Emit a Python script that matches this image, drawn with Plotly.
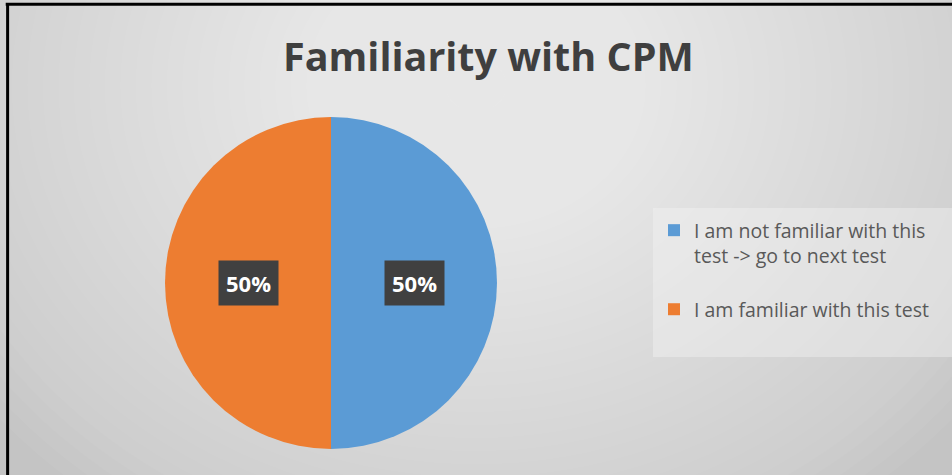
import math
import plotly.graph_objects as go

# data
labels = ["I am not familiar with this<br>test -> go to next test<br> ", "I am familiar with this test"]
values = [50, 50]
colors = ["#5B9BD5", "#ED7D31"]
title_text = "Familiarity with CPM"

W, H = 952, 475
# pie geometry in pixels
cx, cy, r = 331, 283, 166

fig = go.Figure()
fig.add_trace(go.Pie(
    labels=labels, values=values, sort=False, direction="clockwise", rotation=0,
    marker=dict(colors=colors, line=dict(width=0)),
    textinfo="none", hoverinfo="percent",
    domain=dict(x=[(cx - r) / W, (cx + r) / W], y=[1 - (cy + r) / H, 1 - (cy - r) / H]),
))

# fake radial gradient background
shapes = []
n = 40
for i in range(n):
    f = 1 - i / n
    rx, ry = 0.65 * f, 1.1 * f
    shapes.append(dict(type="circle", xref="paper", yref="paper", layer="below",
                       x0=0.5 - rx, x1=0.5 + rx, y0=0.82 - ry, y1=0.82 + ry,
                       fillcolor="rgba(255,255,255,0.04)", line=dict(width=0)))
# legend panel
shapes.append(dict(type="rect", xref="paper", yref="paper", layer="below",
                   x0=653 / W, x1=1, y0=1 - 357 / H, y1=1 - 208 / H,
                   fillcolor="rgba(245,245,245,0.4)", line=dict(width=0)))
# frame (top and left only)
shapes.append(dict(type="line", xref="paper", yref="paper", x0=0.006, x1=1, y0=0.991, y1=0.991,
                   line=dict(color="black", width=3)))
shapes.append(dict(type="line", xref="paper", yref="paper", x0=0.008, x1=0.008, y0=0, y1=0.991,
                   line=dict(color="black", width=3)))

# data labels placed at half radius, mid angle of each slice
annotations = []
total = sum(values)
start = 0
for v in values:
    mid = (start + v / 2) / total * 2 * math.pi
    start += v
    lx = cx + 0.5 * r * math.sin(mid)
    ly = cy - 0.5 * r * math.cos(mid)
    annotations.append(dict(
        x=lx / W, y=1 - ly / H, xref="paper", yref="paper", showarrow=False,
        xanchor="center", yanchor="middle",
        text="<b>%d%%</b>" % round(v / total * 100),
        font=dict(family="Open Sans", size=22, color="white"),
        bgcolor="#404040", borderpad=7,
    ))

fig.update_layout(
    width=W, height=H,
    margin=dict(l=0, r=0, t=0, b=0),
    paper_bgcolor="#c4c4c4", plot_bgcolor="rgba(0,0,0,0)",
    title=dict(text="<b>" + title_text + "</b>", x=0.513, xanchor="center", y=0.88, yanchor="middle",
               font=dict(family="Open Sans", size=39.5, color="#3f3f3f")),
    legend=dict(x=654 / W, y=1 - 211 / H, xanchor="left", yanchor="top", valign="top",
                bgcolor="rgba(0,0,0,0)", borderwidth=0,
                font=dict(family="Open Sans", size=19.5, color="#595959"),
                itemwidth=30),
    shapes=shapes, annotations=annotations,
)

fig.write_html("out.html", config={"displayModeBar": False},
               post_script="document.body.style.margin='0';document.body.style.overflow='hidden';")
